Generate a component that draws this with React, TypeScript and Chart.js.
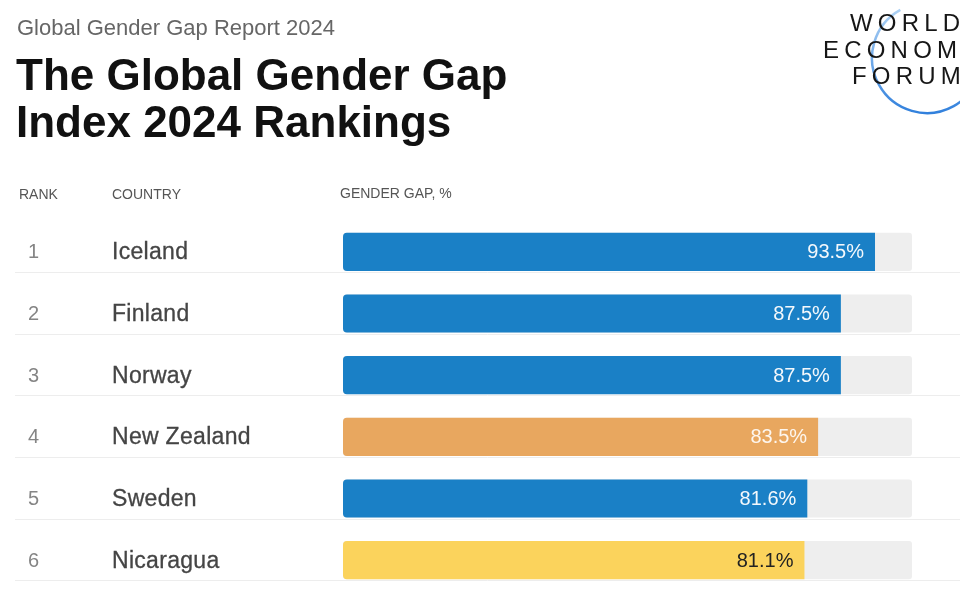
import React, { useEffect, useRef } from "react";
import { Chart, registerables } from "chart.js";

Chart.register(...registerables);

// ---- data ----
const ranks = ["1", "2", "3", "4", "5", "6"];
const countries = ["Iceland", "Finland", "Norway", "New Zealand", "Sweden", "Nicaragua"];
const gaps = [93.5, 87.5, 87.5, 83.5, 81.6, 81.1];
const trackValues = [100, 100, 100, 100, 100, 100];
const barColors = ["#1a80c6", "#1a80c6", "#1a80c6", "#e8a75f", "#1a80c6", "#fbd35c"];
const labelColors = ["#f4f8fc", "#f4f8fc", "#f4f8fc", "#fdf6ee", "#f4f8fc", "#222222"];
const headers = ["RANK", "COUNTRY", "GENDER GAP, %"];
const subtitle = "Global Gender Gap Report 2024";
const titleLines = ["The Global Gender Gap", "Index 2024 Rankings"];
const logoLines = ["WORLD", "ECONOMIC", "FORUM"];

const FONT = '"Liberation Sans", Arial, Helvetica, sans-serif';

const overlay = {
  id: "overlay",
  beforeDatasetsDraw(chart: any) {
    const ctx = chart.ctx;
    const y = chart.scales.y;
    ctx.save();
    ctx.strokeStyle = "#ededed";
    ctx.lineWidth = 1;
    countries.forEach((_, i) => {
      const py = Math.round(y.getPixelForValue(i) + 20) + 0.5;
      ctx.beginPath();
      ctx.moveTo(15, py);
      ctx.lineTo(960, py);
      ctx.stroke();
    });
    ctx.restore();
  },
  afterDatasetsDraw(chart: any) {
    const ctx = chart.ctx;
    const y = chart.scales.y;
    const meta = chart.getDatasetMeta(0);
    ctx.save();
    // value labels
    ctx.font = `20px ${FONT}`;
    ctx.textAlign = "right";
    ctx.textBaseline = "middle";
    meta.data.forEach((bar: any, i: number) => {
      ctx.fillStyle = labelColors[i];
      ctx.fillText(gaps[i].toFixed(1) + "%", bar.x - 11, bar.y + 1);
    });
    // rank + country
    ctx.textAlign = "left";
    countries.forEach((c, i) => {
      const py = y.getPixelForValue(i);
      (ctx as any).letterSpacing = "0px";
      ctx.font = `20px ${FONT}`;
      ctx.fillStyle = "#858585";
      ctx.fillText(ranks[i], 28, py + 1);
      (ctx as any).letterSpacing = "0.3px";
      ctx.font = `23px ${FONT}`;
      ctx.fillStyle = "#454545";
      ctx.strokeStyle = "#454545";
      ctx.lineWidth = 0.3;
      ctx.fillText(c, 112, py + 1);
      ctx.strokeText(c, 112, py + 1);
    });
    (ctx as any).letterSpacing = "0px";
    // column headers
    ctx.font = `14px ${FONT}`;
    ctx.fillStyle = "#555555";
    ctx.fillText(headers[0], 19, 195);
    ctx.fillText(headers[1], 112, 195);
    ctx.fillText(headers[2], 340, 194);
    // subtitle + title
    ctx.font = `22px ${FONT}`;
    ctx.fillStyle = "#666666";
    ctx.fillText(subtitle, 17, 29);
    ctx.font = `bold 44px ${FONT}`;
    ctx.fillStyle = "#111111";
    ctx.fillText(titleLines[0], 16, 78);
    ctx.fillText(titleLines[1], 16, 125);
    // logo
    const grad = ctx.createLinearGradient(0, 5, 0, 115);
    grad.addColorStop(0, "#b3d5f5");
    grad.addColorStop(1, "#2f7fdc");
    ctx.strokeStyle = grad;
    ctx.lineWidth = 2.5;
    ctx.beginPath();
    ctx.arc(927, 58, 55, (241 * Math.PI) / 180, (50 * Math.PI) / 180, true);
    ctx.stroke();
    ctx.font = `24px ${FONT}`;
    ctx.fillStyle = "#161616";
    (ctx as any).letterSpacing = "5.2px";
    ctx.fillText(logoLines[0], 850, 24);
    ctx.fillText(logoLines[1], 823, 51);
    ctx.fillText(logoLines[2], 852, 77);
    ctx.restore();
  },
};

export default function App() {
  const ref = useRef<HTMLCanvasElement>(null);
  useEffect(() => {
    if (!ref.current) return;
    const chart = new Chart(ref.current, {
      type: "bar",
      data: {
        labels: countries,
        datasets: [
          {
            label: "Gender gap",
            data: gaps,
            backgroundColor: barColors,
            borderSkipped: false,
            borderRadius: { topLeft: 4, bottomLeft: 4, topRight: 0, bottomRight: 0 },
            order: 0,
            grouped: false,
            barPercentage: 0.62,
            categoryPercentage: 1,
          } as any,
          {
            label: "Track",
            data: trackValues,
            backgroundColor: "#eeeeee",
            borderSkipped: false,
            borderRadius: 3,
            order: 1,
            grouped: false,
            barPercentage: 0.62,
            categoryPercentage: 1,
          } as any,
        ],
      },
      options: {
        indexAxis: "y",
        responsive: false,
        maintainAspectRatio: false,
        animation: false,
        devicePixelRatio: 1,
        layout: { padding: { left: 343, right: 48, top: 221, bottom: 9 } },
        scales: {
          x: { display: false, min: 0, max: 100 },
          y: { display: false },
        },
        plugins: {
          legend: { display: false },
          tooltip: { enabled: false },
          title: { display: false },
        },
      },
      plugins: [overlay],
    });
    return () => chart.destroy();
  }, []);
  return (
    <div style={{ position: "absolute", left: 0, top: 0, width: 960, height: 600, background: "#ffffff" }}>
      <canvas ref={ref} width={960} height={600} style={{ display: "block" }} />
    </div>
  );
}
